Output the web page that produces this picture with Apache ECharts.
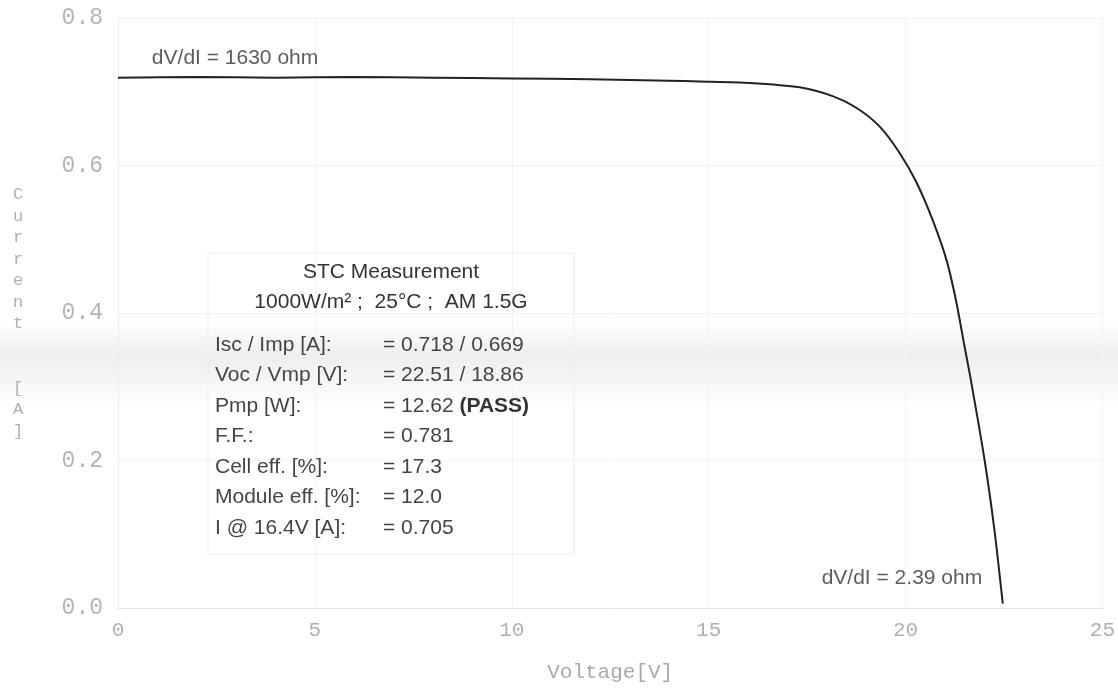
<!DOCTYPE html>
<html>
<head>
<meta charset="utf-8">
<script src="https://cdn.jsdelivr.net/npm/echarts@6/dist/echarts.min.js"></script>
<style>html,body{margin:0;padding:0;background:#fff;}#c{width:1118px;height:694px;}</style>
</head>
<body>
<div id="c"></div>
<script>
// I-V curve (Voltage [V], Current [A])
const voltage = [0, 2, 4, 6, 8, 10, 12, 14, 14.77, 16.04, 17.31, 18.15, 18.76, 19.34, 19.85, 20.28, 20.69, 21.04, 21.29, 21.48, 21.65, 22.01, 22.26, 22.47];
const current = [0.719, 0.720, 0.719, 0.720, 0.719, 0.718, 0.717, 0.715, 0.714, 0.712, 0.706, 0.694, 0.678, 0.653, 0.617, 0.577, 0.526, 0.472, 0.415, 0.360, 0.312, 0.200, 0.105, 0.006];
const xTicks = [0, 5, 10, 15, 20, 25];
const yTicks = [0.0, 0.2, 0.4, 0.6, 0.8];
const annotations = [
  { text: 'dV/dI = 1630 ohm', at: [0.86, 0.745] },
  { text: 'dV/dI = 2.39 ohm', at: [17.87, 0.041] }
];
const boxTitle = ['STC Measurement', '1000W/m² ;  25°C ;  AM 1.5G'];
const boxLabels = ['Isc / Imp [A]:', 'Voc / Vmp [V]:', 'Pmp [W]:', 'F.F.:', 'Cell eff. [%]:', 'Module eff. [%]:', 'I @ 16.4V [A]:'];
const boxValues = ['= 0.718 / 0.669', '= 22.51 / 18.86', '= 12.62 {b|(PASS)}', '= 0.781', '= 17.3', '= 12.0', '= 0.705'];

const mono = 'Liberation Mono, DejaVu Sans Mono, monospace';
const sans = 'Liberation Sans, Arial, sans-serif';
const chart = echarts.init(document.getElementById('c'));

const graphics = [
  { type: 'rect', z: -10, silent: true, shape: { x: 0, y: 322, width: 1118, height: 84 },
    style: { fill: new echarts.graphic.LinearGradient(0, 0, 0, 1, [
      { offset: 0, color: 'rgba(0,0,0,0)' },
      { offset: 0.4, color: 'rgba(0,0,0,0.065)' },
      { offset: 0.65, color: 'rgba(0,0,0,0.045)' },
      { offset: 1, color: 'rgba(0,0,0,0)' }]) } },
  { type: 'rect', z: 5, shape: { x: 208, y: 253, width: 366, height: 301 },
    style: { fill: 'rgba(0,0,0,0)', stroke: '#ededed', lineWidth: 1 } }
];
boxTitle.forEach((t, i) => graphics.push({ type: 'text', z: 6, x: 391, y: 272 + i * 30,
  style: { text: t, font: '21px ' + sans, fill: '#333', align: 'center', verticalAlign: 'middle' } }));
boxLabels.forEach((t, i) => {
  graphics.push({ type: 'text', z: 6, x: 215, y: 345 + i * 30.5,
    style: { text: t, font: '21px ' + sans, fill: '#444', align: 'left', verticalAlign: 'middle' } });
  graphics.push({ type: 'text', z: 6, x: 383, y: 345 + i * 30.5,
    style: { text: boxValues[i], font: '21px ' + sans, fill: '#444', align: 'left', verticalAlign: 'middle',
      rich: { b: { fontWeight: 'bold', fontSize: 21, fontFamily: sans, fill: '#333', color: '#333' } } } });
});

chart.setOption({
  animation: false,
  backgroundColor: '#fff',
  grid: { left: 118, right: 15, top: 18, bottom: 86, containLabel: false },
  xAxis: {
    type: 'value', min: 0, max: 25, interval: 5,
    name: 'Voltage[V]', nameLocation: 'middle', nameGap: 54,
    nameTextStyle: { fontFamily: mono, fontSize: 21, color: '#a8a8a8' },
    axisLine: { show: true, lineStyle: { color: '#e4e4e4' } },
    axisTick: { show: false },
    axisLabel: { fontFamily: mono, fontSize: 21, color: '#b0b0b0', margin: 12,
      formatter: v => xTicks.includes(v) ? String(v) : '' },
    splitLine: { show: true, lineStyle: { color: '#f2f2f2' } }
  },
  yAxis: {
    type: 'value', min: 0, max: 0.8, interval: 0.2,
    name: 'C\nu\nr\nr\ne\nn\nt\n\n\n[\nA\n]', nameLocation: 'middle', nameRotate: 0, nameGap: 100,
    nameTextStyle: { fontFamily: mono, fontSize: 17, color: '#b0b0b0', lineHeight: 21.5, align: 'center', verticalAlign: 'middle' },
    axisLine: { show: true, lineStyle: { color: '#ececec' } },
    axisTick: { show: false },
    axisLabel: { fontFamily: mono, fontSize: 23, color: '#b4b4b4', margin: 15,
      formatter: v => yTicks.some(t => Math.abs(t - v) < 1e-9) ? v.toFixed(1) : '' },
    splitLine: { show: true, lineStyle: { color: '#f2f2f2' } }
  },
  series: [
    { type: 'line', data: voltage.map((v, i) => [v, current[i]]), smooth: 0.25, showSymbol: false,
      lineStyle: { color: '#222', width: 2 }, z: 3 },
    { type: 'scatter', symbolSize: 0, z: 4,
      data: annotations.map(a => ({ value: a.at, name: a.text })),
      label: { show: true, position: 'right', distance: 0, formatter: p => p.name,
        fontFamily: sans, fontSize: 21, color: '#333' } }
  ],
  graphic: graphics
});
</script>
</body>
</html>
